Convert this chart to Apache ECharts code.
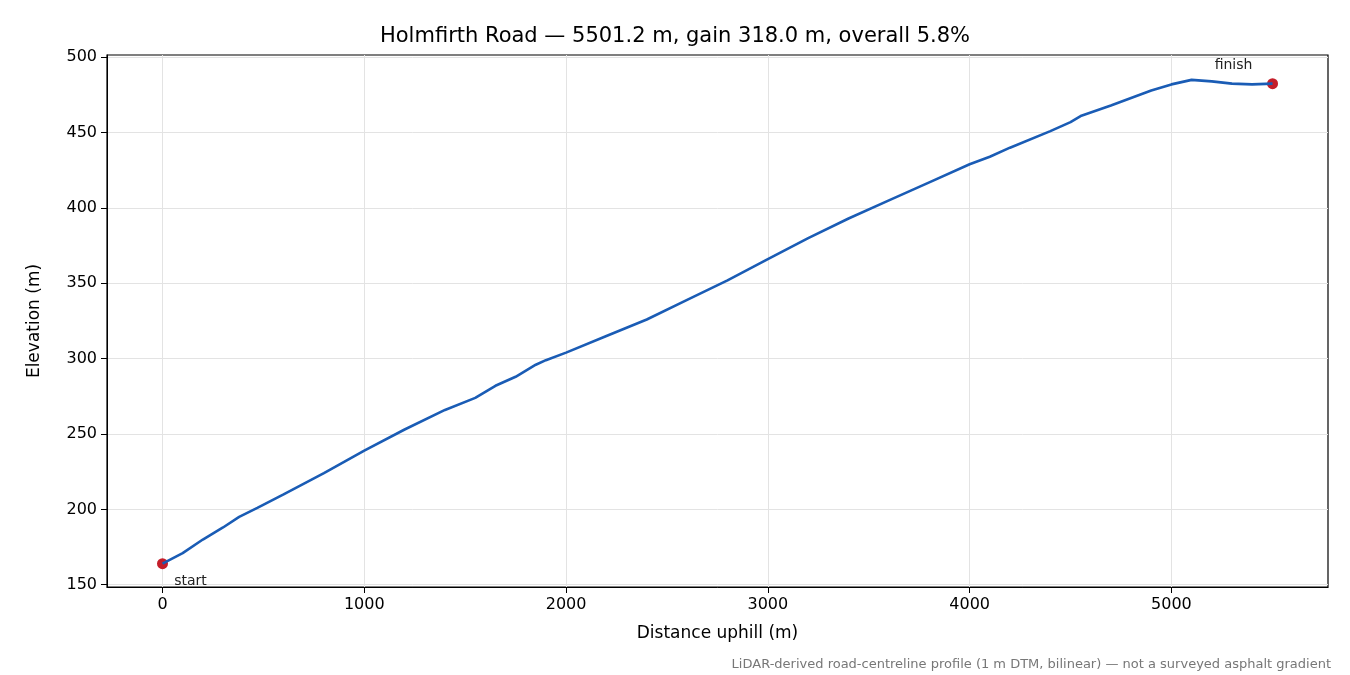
<!DOCTYPE html>
<html><head><meta charset="utf-8">
<script src="https://cdn.jsdelivr.net/npm/echarts@6/dist/echarts.min.js"></script>
<style>html,body{margin:0;background:#fff}#c{width:1350px;height:675px}</style>
</head><body><div id="c"></div>
<script>
const distance = [0,100,200,300,380,470,600,800,1000,1200,1400,1550,1650,1750,1850,1900,2000,2200,2400,2600,2800,3000,3200,3400,3600,3800,4000,4100,4200,4400,4500,4550,4700,4900,5000,5100,5200,5300,5400,5501.2];
const elevation = [164,171,180,188,195,201,210,224,239,253,266,274,282,288,296,299,304,315,326,339,352,366,380,393,405,417,429,434,440,451,457,461,468,478,482,485,484,482.5,482,482.5];
const endpoints = [[0,164,'start'],[5501.2,482.5,'finish']];
const xTicks = [0,1000,2000,3000,4000,5000];
const yTicks = [150,200,250,300,350,400,450,500];
const F = 'DejaVu Sans';
const chart = echarts.init(document.getElementById('c'));
chart.setOption({
  animation:false,
  title:[{text:'Holmfirth Road — 5501.2 m, gain 318.0 m, overall 5.8%',left:'center',top:21,textStyle:{fontFamily:F,fontSize:21,fontWeight:'normal',color:'#000'}},
    {text:'LiDAR-derived road-centreline profile (1 m DTM, bilinear) — not a surveyed asphalt gradient',right:14,top:653,textStyle:{fontFamily:F,fontSize:13,fontWeight:'normal',color:'#777'}}],
  grid:{left:107,right:22,top:55,bottom:88},
  xAxis:{type:'value',min:-275,max:5776,name:'Distance uphill (m)',nameLocation:'middle',nameGap:38,
    nameTextStyle:{fontFamily:F,fontSize:17,color:'#000'},
    axisLine:{onZero:false,lineStyle:{color:'#000'}},axisTick:{show:true,length:6,lineStyle:{color:'#000'},customValues:xTicks},
    axisLabel:{fontFamily:F,fontSize:16,color:'#000',customValues:xTicks,margin:10,formatter:v=>String(v)},
    splitLine:{show:true,lineStyle:{color:'#e3e3e3'}}},
  yAxis:{type:'value',min:148.5,max:501.5,name:'Elevation (m)',nameLocation:'middle',nameGap:64,
    nameTextStyle:{fontFamily:F,fontSize:17,color:'#000'},
    axisLine:{show:true,onZero:false,lineStyle:{color:'#000'}},axisTick:{show:true,length:6,lineStyle:{color:'#000'},customValues:yTicks},
    axisLabel:{fontFamily:F,fontSize:16,color:'#000',customValues:yTicks,margin:10,formatter:v=>String(v)},
    splitLine:{show:true,lineStyle:{color:'#e3e3e3'}}},
  series:[
    {type:'line',data:distance.map((d,i)=>[d,elevation[i]]),smooth:false,showSymbol:false,lineStyle:{color:'#1a5cb5',width:2.6}},
    {type:'scatter',data:endpoints,symbolSize:11,itemStyle:{color:'#c41e2a',opacity:1},
     label:{show:true,fontFamily:F,fontSize:14,color:'#222',formatter:p=>p.data[2],position:'bottom'},
     labelLayout:p=>p.dataIndex===0?{dx:28,dy:0}:{dx:-39,dy:-36}}
  ],
  graphic:[{type:'rect',shape:{x:107,y:55,width:1221,height:532},style:{fill:'none',stroke:'#000',lineWidth:1.2},silent:true}]
});
</script></body></html>
